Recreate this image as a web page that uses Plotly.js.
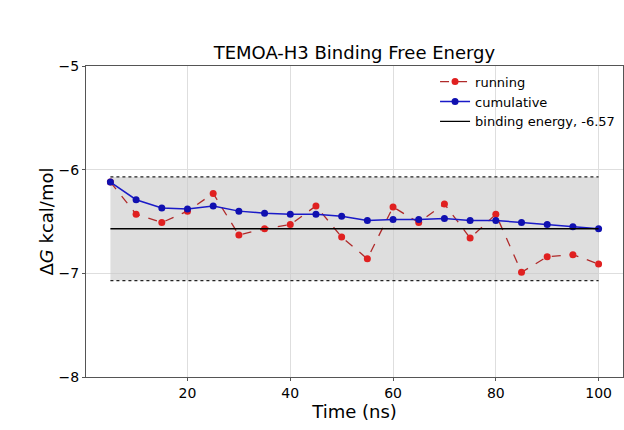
<!DOCTYPE html>
<html>
<head>
<meta charset="utf-8">
<script src="https://cdn.plot.ly/plotly-3.0.1.min.js"></script>
<style>
  body { margin: 0; background: #fff; }
  #chart { width: 624px; height: 430px; }
</style>
</head>
<body>
<div id="chart"></div>
<script>
// data
const timeNs = [5, 10, 15, 20, 25, 30, 35, 40, 45, 50, 55, 60, 65, 70, 75, 80, 85, 90, 95, 100];
const running = [-6.12, -6.43, -6.51, -6.40, -6.23, -6.63, -6.57, -6.53, -6.35, -6.65,
                 -6.86, -6.36, -6.51, -6.33, -6.66, -6.43, -6.99, -6.84, -6.82, -6.91];
const cumulative = [-6.12, -6.29, -6.37, -6.38, -6.35, -6.40, -6.42, -6.43, -6.43, -6.45,
                    -6.49, -6.48, -6.48, -6.47, -6.49, -6.49, -6.51, -6.53, -6.55, -6.57];
const bindingEnergy = -6.57;
const bandTop = -6.07;
const bandBottom = -7.07;
const bandX = [5, 100];

const font = 'DejaVu Sans, sans-serif';

const bandUpper = {
  x: bandX, y: [bandTop, bandTop],
  mode: 'lines', line: {color: '#222', width: 1.2, dash: 'dot'},
  showlegend: false, hoverinfo: 'skip'
};
const bandLower = {
  x: bandX, y: [bandBottom, bandBottom],
  mode: 'lines', line: {color: '#222', width: 1.2, dash: 'dot'},
  fill: 'tonexty', fillcolor: 'rgba(200,200,200,0.6)',
  showlegend: false, hoverinfo: 'skip'
};
const runTrace = {
  x: timeNs, y: running, name: 'running',
  mode: 'lines+markers',
  line: {color: '#b02a2a', width: 1.3, dash: 'dash'},
  marker: {color: '#e02020', size: 7}
};
const cumTrace = {
  x: timeNs, y: cumulative, name: 'cumulative',
  mode: 'lines+markers',
  line: {color: '#1a1ac8', width: 1.5},
  marker: {color: '#1010b0', size: 7}
};
const bindTrace = {
  x: bandX, y: [bindingEnergy, bindingEnergy],
  name: 'binding energy, ' + bindingEnergy,
  mode: 'lines', line: {color: '#000', width: 1.3}
};

const axisStyle = {
  showline: true, mirror: true, linecolor: '#555', linewidth: 1,
  ticks: 'outside', ticklen: 3, tickcolor: '#555',
  showgrid: true, gridcolor: '#dedede', gridwidth: 1,
  zeroline: false, tickfont: {family: font, size: 14, color: '#000'}
};

const layout = {
  width: 624, height: 430,
  margin: {l: 86, r: 1, t: 66, b: 53},
  paper_bgcolor: '#fff', plot_bgcolor: '#fff',
  font: {family: font, color: '#000'},
  title: {text: 'TEMOA-H3 Binding Free Energy', font: {family: font, size: 18},
          x: 0.568, xanchor: 'center', y: 0.878, yanchor: 'middle'},
  xaxis: Object.assign({}, axisStyle, {
    range: [0.25, 104.75], dtick: 20, tick0: 0,
    title: {text: 'Time (ns)', font: {family: font, size: 18}, standoff: 0}
  }),
  yaxis: Object.assign({}, axisStyle, {
    range: [-8, -5], dtick: 1, tickformat: 'd',
    title: {text: 'Δ<i>G</i> kcal/mol', font: {family: font, size: 18}, standoff: 0}
  }),
  legend: {
    x: 0.65, y: 0.998, xanchor: 'left', yanchor: 'top',
    traceorder: 'normal',
    bgcolor: 'rgba(255,255,255,0)', borderwidth: 0,
    font: {family: font, size: 13}, tracegroupgap: 0
  },
  showlegend: true
};

Plotly.newPlot('chart', [bandUpper, bandLower, runTrace, cumTrace, bindTrace], layout,
  {displayModeBar: false, staticPlot: true});
</script>
</body>
</html>
